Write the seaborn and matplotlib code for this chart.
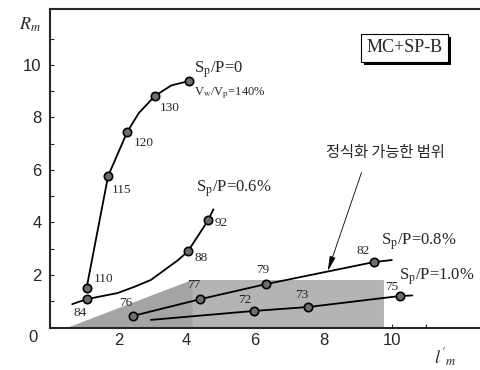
import numpy as np
import pandas as pd
import matplotlib
matplotlib.use("Agg")
import matplotlib.pyplot as plt
import matplotlib.patheffects as pe
import seaborn as sns

# 곡선 경로
sp0_x = [1.07, 1.70, 2.26, 2.60, 3.07, 3.55, 4.08]
sp0_y = [1.50, 5.77, 7.45, 8.17, 8.82, 9.22, 9.39]
sp06_x = [0.65, 1.07, 1.97, 2.45, 2.95, 3.75, 4.04, 4.63, 4.78]
sp06_y = [0.89, 1.08, 1.31, 1.54, 1.81, 2.57, 2.91, 4.09, 4.50]
sp08_x = [2.42, 4.40, 6.31, 9.47, 10.00]
sp08_y = [0.44, 1.08, 1.65, 2.49, 2.57]
sp10_x = [2.95, 5.96, 7.55, 10.24, 10.60]
sp10_y = [0.29, 0.63, 0.78, 1.20, 1.22]

# 측정점
pt_x = [1.07, 1.70, 2.26, 3.07, 4.08, 1.07, 4.04, 4.63, 2.42, 4.40, 6.31, 9.47, 5.96, 7.55, 10.24]
pt_y = [1.50, 5.77, 7.45, 8.82, 9.39, 1.08, 2.91, 4.09, 0.44, 1.08, 1.65, 2.49, 0.63, 0.78, 1.20]
pt_lab = ["110", "115", "120", "130", "", "84", "88", "92", "76", "77", "79", "82", "72", "73", "75"]

# 정식화 가능한 범위 (음영)
zone_x = [0.54, 4.17, 9.77, 9.77]
zone_y = [0.00, 1.81, 1.81, 0.00]

lines = pd.concat([
    pd.DataFrame({"x": sp0_x, "y": sp0_y, "s": "0"}),
    pd.DataFrame({"x": sp06_x, "y": sp06_y, "s": "0.6"}),
    pd.DataFrame({"x": sp08_x, "y": sp08_y, "s": "0.8"}),
    pd.DataFrame({"x": sp10_x, "y": sp10_y, "s": "1.0"}),
])
pts = pd.DataFrame({"x": pt_x, "y": pt_y})

sns.set_style("ticks")
plt.rcParams["font.family"] = ["Liberation Serif", "DejaVu Serif"]
plt.rcParams["mathtext.fontset"] = "stix"

fig = plt.figure(figsize=(4.81, 3.70), dpi=100)
ax = fig.add_axes([50 / 481, 1 - 327.5 / 370, 1 - 50 / 481 + 0.01, (327.5 - 9) / 370])

ax.fill(zone_x, zone_y, color="#b4b4b4", lw=0, zorder=1)
ax.fill([0.54, 4.17, 4.17], [0.0, 1.81, 0.0], color="#a4a4a4", lw=0, zorder=1)

sns.lineplot(data=lines, x="x", y="y", units="s", estimator=None, sort=False,
             color="black", lw=1.3, ax=ax, zorder=3)
sns.scatterplot(data=pts, x="x", y="y", s=36, color="#6e6e6e", edgecolor="black",
                linewidth=1.2, ax=ax, zorder=4)

lab_pos = {"110": (1.56, 1.85), "115": (2.09, 5.24), "120": (2.74, 7.03), "130": (3.51, 8.36),
           "84": (0.88, 0.55), "88": (4.42, 2.65), "92": (5.01, 3.98), "76": (2.21, 0.93),
           "77": (4.22, 1.62), "79": (6.22, 2.19), "82": (9.17, 2.91), "72": (5.69, 1.05),
           "73": (7.35, 1.24), "75": (10.0, 1.54)}
for lab in pt_lab:
    if lab:
        ax.text(*lab_pos[lab], lab, fontsize=9.5, ha="center", va="center", zorder=5)

ax.text(4.2, 9.8, r"S$_\mathrm{p}$/P=0", fontsize=12, va="center")
ax.text(4.2, 8.93, r"V$_\mathrm{w}$/V$_\mathrm{p}$=140%", fontsize=9, va="center")
ax.text(4.28, 5.3, r"S$_\mathrm{p}$/P=0.6%", fontsize=12, va="center")
ax.text(9.68, 3.25, r"S$_\mathrm{p}$/P=0.8%", fontsize=12, va="center")
ax.text(10.2, 1.92, r"S$_\mathrm{p}$/P=1.0%", fontsize=12, va="center")

ax.text(9.82, 6.65, "정식화 가능한 범위", fontsize=11, ha="center", va="center",
        family=["Noto Sans CJK KR", "DejaVu Sans"])
ax.annotate("", xy=(8.1, 2.05), xytext=(9.14, 6.0),
            arrowprops=dict(arrowstyle="-|>,head_length=0.9,head_width=0.18",
                            color="black", lw=0.6), zorder=5)

tag = ax.text(10.38, 10.65, "MC+SP-B", fontsize=13, ha="center", va="center",
              bbox=dict(boxstyle="square,pad=0.3", fc="white", ec="black", lw=0.8), zorder=6)
tag.get_bbox_patch().set_path_effects([
    pe.SimplePatchShadow(offset=(2, -2), shadow_rgbFace="black", alpha=1.0), pe.Normal()])

ax.set_xlim(0, 12.75)
ax.set_ylim(0, 12.13)
ax.set_xticks([2, 4, 6, 8, 10])
ax.set_yticks([2, 4, 6, 8, 10])
ax.set_xticks(np.arange(1, 12, 2), minor=True)
ax.set_yticks(np.arange(1, 12, 2), minor=True)
ax.tick_params(which="both", direction="in", labelsize=12, width=0.8)
ax.tick_params(which="major", length=3)
ax.tick_params(which="minor", length=3)
ax.tick_params(axis="y", pad=6)
ax.tick_params(axis="x", pad=4)
for t in ax.get_xticklabels() + ax.get_yticklabels():
    t.set_family("Liberation Sans")
ax.set_xlabel("")
ax.set_ylabel("")
for side in ["left", "bottom", "top"]:
    ax.spines[side].set_linewidth(1.5)
ax.spines["right"].set_visible(False)

fig.text(33 / 481, 1 - 338 / 370, "0", fontsize=12, ha="center", va="center", family="Liberation Sans")
fig.text(30 / 481, 1 - 25 / 370, r"$R_m$", fontsize=13, ha="center", va="center")
fig.text(445 / 481, 1 - 358 / 370, r"$l'_m$", fontsize=13, ha="center", va="center")

fig.savefig("out.png", dpi=100)
